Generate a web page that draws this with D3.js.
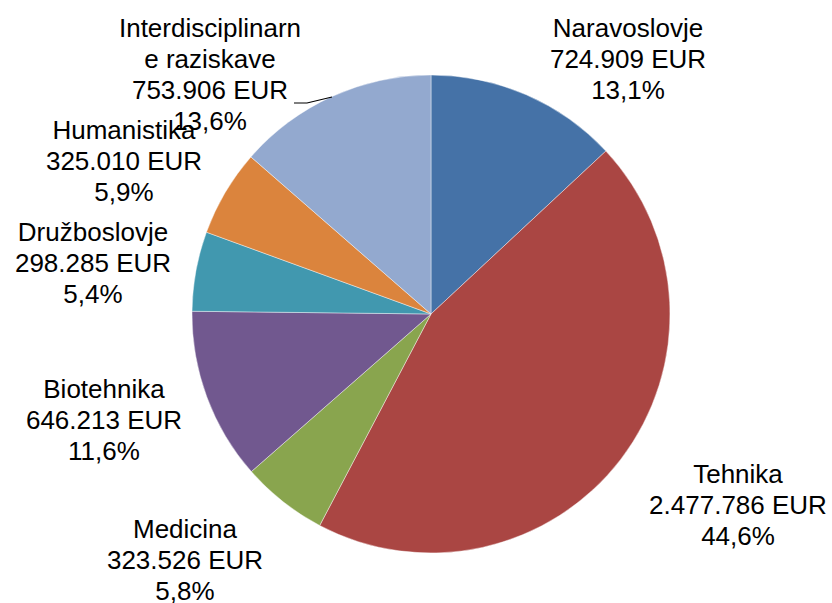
<!DOCTYPE html>
<html>
<head>
<meta charset="utf-8">
<script src="https://cdn.jsdelivr.net/npm/d3@7"></script>
<style>
  body { margin: 0; background: #fff; }
  text { font-family: "Liberation Sans", Arial, sans-serif; }
</style>
</head>
<body>
<div id="pieChart"></div>
<script>
var categories = ["Naravoslovje", "Tehnika", "Medicina", "Biotehnika", "Družboslovje", "Humanistika", "Interdisciplinarne raziskave"];
var amounts = [724909, 2477786, 323526, 646213, 298285, 325010, 753906];
var colors = ["#4572A7", "#AA4643", "#89A54E", "#71588F", "#4198AF", "#DB843D", "#93A9CF"];

// where Excel put the labels: centre x and first baseline
var labelPos = [[628, 37], [738, 483], [185, 538], [104, 398], [93, 241], [124, 139], [210, 37]];

var width = 832, height = 603,
  cx = 431, cy = 314, radius = 239,
  lineH = 31;

var loc = d3.formatLocale({ decimal: ",", thousands: ".", grouping: [3], currency: ["", ""] });
var fmtEur = loc.format(",d"),
  fmtPct = loc.format(".1f");

var data = categories.map(function(c, i) {
  return { name: c, value: amounts[i], color: colors[i], pos: labelPos[i] };
});
var total = d3.sum(amounts);

var svg = d3.select("#pieChart")
  .append("svg")
  .attr("width", width)
  .attr("height", height);

var pie = d3.pie().sort(null).value(function(d) { return d.value; });
var arc = d3.arc().innerRadius(0).outerRadius(radius);

svg.append("g")
  .attr("transform", "translate(" + cx + "," + cy + ")")
  .selectAll("path")
  .data(pie(data))
  .enter()
  .append("path")
  .attr("d", arc)
  .style("fill", function(d) { return d.data.color; })
  .style("stroke", "#fff")
  .style("stroke-width", 0.6)
  .style("stroke-opacity", 0.7);

// leader line for the interdisciplinary label
svg.append("path")
  .attr("d", d3.line()([[294, 103], [307, 103], [332, 97]]))
  .style("fill", "none")
  .style("stroke", "#000")
  .style("stroke-width", 1.2);

var labels = svg.selectAll(".lbl")
  .data(data)
  .enter()
  .append("text")
  .attr("class", "lbl")
  .attr("text-anchor", "middle")
  .style("font-size", "26px")
  .style("fill", "#000");

labels.each(function(d) {
  // long name wraps the way Excel did it
  var lines = d.name.length > 17 ? [d.name.slice(0, 17), d.name.slice(17)] : [d.name];
  lines.push(fmtEur(d.value) + " EUR");
  lines.push(fmtPct(d.value / total * 100) + "%");
  var t = d3.select(this);
  lines.forEach(function(l, i) {
    t.append("tspan")
      .attr("x", d.pos[0])
      .attr("y", d.pos[1] + i * lineH)
      .text(l);
  });
});
</script>
</body>
</html>
